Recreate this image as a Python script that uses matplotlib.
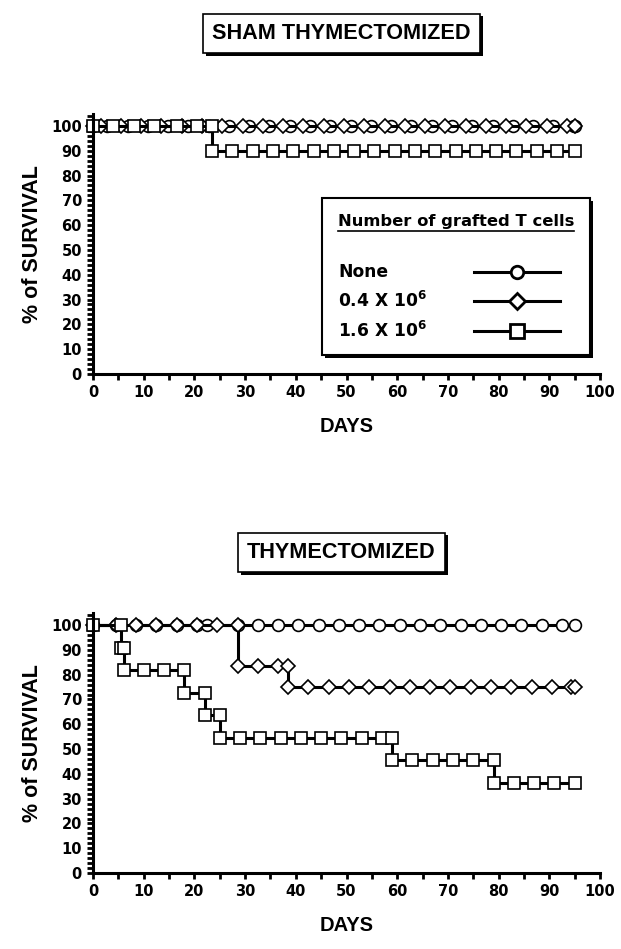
import numpy as np
import matplotlib
matplotlib.use('Agg')
import matplotlib.pyplot as plt
from matplotlib.ticker import MultipleLocator
from matplotlib.patches import Rectangle
import matplotlib.patheffects as pe

plt.rcParams['font.family'] = ['Liberation Sans', 'DejaVu Sans']
plt.rcParams['font.weight'] = 'bold'
plt.rcParams['mathtext.fontset'] = 'custom'
plt.rcParams['mathtext.rm'] = 'DejaVu Sans:bold'
plt.rcParams['mathtext.default'] = 'rm'

# ---- data: (day, % survival) at each observation marker ----
# sham thymectomized
sham_none_days = [0, 2.8, 6.8, 10.8, 14.8, 18.8, 22.8, 26.8, 30.8, 34.8, 38.8, 42.8, 46.8,
                  50.8, 54.8, 58.8, 62.8, 66.8, 70.8, 74.8, 78.8, 82.8, 86.8, 90.8, 94.8, 95]
sham_none_surv = [100] * len(sham_none_days)

sham_low_days = [0, 1.5, 5.5, 9.5, 13.5, 17.5, 21.5, 25.5, 29.5, 33.5, 37.5, 41.5, 45.5,
                 49.5, 53.5, 57.5, 61.5, 65.5, 69.5, 73.5, 77.5, 81.5, 85.5, 89.5, 93.5, 95]
sham_low_surv = [100] * len(sham_low_days)

sham_high_days = [0, 4, 8, 12, 16.5, 20.5, 23.5, 23.5, 27.5, 31.5, 35.5, 39.5, 43.5, 47.5,
                  51.5, 55.5, 59.5, 63.5, 67.5, 71.5, 75.5, 79.5, 83.5, 87.5, 91.5, 95]
sham_high_surv = [100, 100, 100, 100, 100, 100, 100, 90, 90, 90, 90, 90, 90, 90,
                  90, 90, 90, 90, 90, 90, 90, 90, 90, 90, 90, 90]

# thymectomized
thx_none_days = [0, 4.5, 8.5, 12.5, 16.5, 20.5, 22.5, 28.5, 32.5, 36.5, 40.5, 44.5, 48.5,
                 52.5, 56.5, 60.5, 64.5, 68.5, 72.5, 76.5, 80.5, 84.5, 88.5, 92.5, 95]
thx_none_surv = [100] * len(thx_none_days)

thx_low_days = [0, 4.5, 8.5, 12.5, 16.5, 20.5, 24.5, 28.5, 28.5, 32.5, 36.5, 38.5, 38.5,
                42.5, 46.5, 50.5, 54.5, 58.5, 62.5, 66.5, 70.5, 74.5, 78.5, 82.5, 86.5,
                90.5, 94.3, 95]
thx_low_surv = [100, 100, 100, 100, 100, 100, 100, 100, 83.3, 83.3, 83.3, 83.3, 75,
                75, 75, 75, 75, 75, 75, 75, 75, 75, 75, 75, 75,
                75, 75, 75]

thx_high_days = [0, 5.5, 5.5, 6.2, 6.2, 10, 14, 18, 18, 22, 22, 25, 25, 29, 33, 37, 41, 45,
                 49, 53, 57, 59, 59, 63, 67, 71, 75, 79, 79, 83, 87, 91, 95]
thx_high_surv = [100, 100, 90.9, 90.9, 81.8, 81.8, 81.8, 81.8, 72.7, 72.7, 63.6, 63.6,
                 54.5, 54.5, 54.5, 54.5, 54.5, 54.5, 54.5, 54.5, 54.5, 54.5, 45.5, 45.5,
                 45.5, 45.5, 45.5, 45.5, 36.4, 36.4, 36.4, 36.4, 36.4]

legend_labels = ['None', '0.4 X 10$^6$', '1.6 X 10$^6$']
markers = ['o', 'D', 's']
msizes = [8.5, 7.3, 9]

fig = plt.figure(figsize=(6.21, 9.49), dpi=100)
ax1 = fig.add_axes([0.1498, 0.606, 0.8164, 0.2744])
ax2 = fig.add_axes([0.1498, 0.080, 0.8164, 0.2744])


def series(ax, days, surv, mk, ms):
    ax.plot(days, surv, color='black', lw=2.2, marker=mk, ms=ms,
            mfc='white', mec='black', mew=1.2, clip_on=False)


def style_axes(ax):
    ax.set_xlim(0, 100)
    ax.set_ylim(0, 105)
    for s in ['top', 'right']:
        ax.spines[s].set_visible(False)
    for s in ['left', 'bottom']:
        ax.spines[s].set_linewidth(2.2)
    ax.xaxis.set_major_locator(MultipleLocator(10))
    ax.xaxis.set_minor_locator(MultipleLocator(5))
    ax.set_yticks(np.arange(0, 101, 10))
    ax.yaxis.set_minor_locator(MultipleLocator(2))
    ax.tick_params(which='both', direction='out', width=2, length=4.5, pad=3.5)
    for lab in ax.get_xticklabels() + ax.get_yticklabels():
        lab.set_fontfamily('DejaVu Sans')
        lab.set_fontweight('bold')
        lab.set_fontsize(10.5)
    ax.set_xlabel('DAYS', fontsize=14.5, fontweight='bold', labelpad=12)
    ax.set_ylabel('% of SURVIVAL', fontsize=15.5, fontweight='bold', labelpad=6)


def boxed_title(text, y):
    t = fig.text(0.55, y, text, ha='center', va='center', fontsize=15.6,
                 fontweight='bold',
                 bbox=dict(boxstyle='square,pad=0.42', fc='white', ec='black', lw=1.2))
    t.get_bbox_patch().set_path_effects([
        pe.SimplePatchShadow(offset=(2, -2), shadow_rgbFace='black', alpha=1),
        pe.Normal()])


# sham panel
series(ax1, sham_none_days, sham_none_surv, markers[0], msizes[0])
series(ax1, sham_low_days, sham_low_surv, markers[1], msizes[1])
series(ax1, sham_high_days, sham_high_surv, markers[2], msizes[2])
style_axes(ax1)

# thymectomized panel
series(ax2, thx_none_days, thx_none_surv, markers[0], msizes[0])
series(ax2, thx_low_days, thx_low_surv, markers[1], msizes[1])
series(ax2, thx_high_days, thx_high_surv, markers[2], msizes[2])
style_axes(ax2)

boxed_title('SHAM THYMECTOMIZED', 0.965)
boxed_title('THYMECTOMIZED', 0.418)

# legend drawn by hand inside the sham panel
box = Rectangle((0.452, 0.073), 0.528, 0.603, transform=ax1.transAxes,
                fc='white', ec='black', lw=1.5, zorder=5)
box.set_path_effects([pe.SimplePatchShadow(offset=(2, -2), shadow_rgbFace='black', alpha=1),
                      pe.Normal()])
ax1.add_patch(box)
ax1.text(0.483, 0.584, 'Number of grafted T cells', transform=ax1.transAxes,
         fontsize=11.8, fontweight='bold', family='DejaVu Sans',
         va='center', ha='left', zorder=6)
ax1.plot([0.483, 0.948], [0.548, 0.548], transform=ax1.transAxes, color='black',
         lw=1.2, zorder=6)
item_y = [0.391, 0.28, 0.165]
for lab, mk, ms, yy in zip(legend_labels, markers, msizes, item_y):
    ax1.text(0.483, yy, lab, transform=ax1.transAxes, fontsize=12.3,
             fontweight='bold', family='DejaVu Sans', va='center', ha='left', zorder=6)
    ax1.plot([0.751, 0.921], [yy, yy], transform=ax1.transAxes, color='black',
             lw=2.2, zorder=6)
    ax1.plot([0.836], [yy], transform=ax1.transAxes, marker=mk, ms=ms + 0.5,
             mfc='white', mec='black', mew=2, zorder=7, ls='none')

fig.savefig('out.png', dpi=100)
